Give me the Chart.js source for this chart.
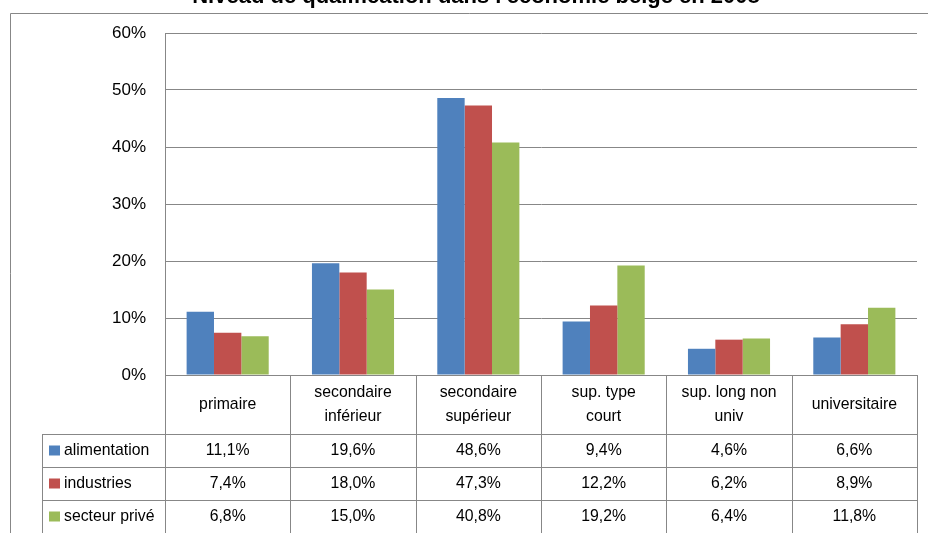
<!DOCTYPE html>
<html>
<head>
<meta charset="utf-8">
<script src="https://cdn.jsdelivr.net/npm/chart.js@4.4.1/dist/chart.umd.min.js"></script>
<style>
  html, body { margin: 0; padding: 0; background: #fff; }
  #wrap { width: 928px; height: 533px; }
</style>
</head>
<body>
<div id="wrap"><canvas id="qualif" width="928" height="533"></canvas></div>
<script>
const titleText = "Niveau de qualification dans l'économie belge en 2008";
const categories = [
    ["primaire"],
    ["secondaire", "inférieur"],
    ["secondaire", "supérieur"],
    ["sup. type", "court"],
    ["sup. long non", "univ"],
    ["universitaire"],
];
const seriesNames = ["alimentation", "industries", "secteur privé"];
const alimentation = [11.1, 19.6, 48.6, 9.4, 4.6, 6.6];
const industries = [7.4, 18.0, 47.3, 12.2, 6.2, 8.9];
const secteurPrive = [6.8, 15.0, 40.8, 19.2, 6.4, 11.8];
const yTicks = [0, 10, 20, 30, 40, 50, 60];

const colors = ["#4F81BD", "#C0504D", "#9BBB59"];
const lineColor = "#878787";
const narrow = '"Liberation Sans Narrow", "Arial Narrow", "Liberation Sans", sans-serif';
const squeeze = 0.93; // no narrow font here, so the table text is squeezed a bit

const fmt = (v) => v.toFixed(1).replace(".", ",") + "%";

function narrowText(ctx, text, x, y, align) {
    ctx.save();
    ctx.translate(x, y);
    ctx.scale(squeeze, 1);
    ctx.textAlign = align;
    ctx.fillText(text, 0, 0);
    ctx.restore();
}

// draws the title, the outer frame and the data table under the bars
const tablePlugin = {
    id: "dataTable",
    afterDraw(chart) {
        const ctx = chart.ctx;
        const area = chart.chartArea;
        const n = categories.length;
        const colW = (area.right - area.left) / n;
        const headTop = area.bottom;
        const headBottom = headTop + 59;
        const rowH = 33;
        const legendLeft = 42;
        const bottom = chart.height;

        ctx.save();
        // frame
        ctx.strokeStyle = lineColor;
        ctx.lineWidth = 1;
        ctx.beginPath();
        ctx.moveTo(10.5, bottom);
        ctx.lineTo(10.5, 13.5);
        ctx.lineTo(chart.width, 13.5);
        ctx.stroke();

        // title (cut by the top edge like in the source)
        ctx.fillStyle = "#000";
        ctx.font = 'bold 22px "Liberation Sans", Arial, sans-serif';
        ctx.textAlign = "center";
        ctx.textBaseline = "alphabetic";
        ctx.fillText(titleText, 476, 3);

        // table grid
        ctx.beginPath();
        for (let i = 0; i <= n; i++) {
            const x = Math.round(area.left + i * colW) + 0.5;
            ctx.moveTo(x, headTop);
            ctx.lineTo(x, bottom);
        }
        for (let r = 0; r < 3; r++) {
            const y = Math.round(headBottom + r * rowH) + 0.5;
            ctx.moveTo(legendLeft + 0.5, y);
            ctx.lineTo(area.right + 0.5, y);
        }
        ctx.moveTo(legendLeft + 0.5, headBottom);
        ctx.lineTo(legendLeft + 0.5, bottom);
        ctx.stroke();

        // header labels
        ctx.font = "17px " + narrow;
        ctx.textBaseline = "middle";
        categories.forEach((lines, i) => {
            const cx = area.left + (i + 0.5) * colW;
            const cy = (headTop + headBottom) / 2;
            const lh = 24;
            lines.forEach((t, k) => {
                narrowText(ctx, t, cx, cy + (k - (lines.length - 1) / 2) * lh, "center");
            });
        });

        // rows
        const rows = [alimentation, industries, secteurPrive];
        rows.forEach((vals, r) => {
            const cy = headBottom + r * rowH + rowH / 2;
            ctx.fillStyle = colors[r];
            ctx.fillRect(49, cy - 5, 11, 10);
            ctx.fillStyle = "#000";
            narrowText(ctx, seriesNames[r], 64, cy, "left");
            vals.forEach((v, i) => {
                narrowText(ctx, fmt(v), area.left + (i + 0.5) * colW, cy, "center");
            });
        });
        ctx.restore();
    },
};

const data = {
    labels: categories.map((c) => c.join(" ")),
    datasets: [
        { label: seriesNames[0], data: alimentation, backgroundColor: colors[0] },
        { label: seriesNames[1], data: industries, backgroundColor: colors[1] },
        { label: seriesNames[2], data: secteurPrive, backgroundColor: colors[2] },
    ],
};

const config = {
    type: "bar",
    data,
    plugins: [tablePlugin],
    options: {
        responsive: false,
        animation: false,
        datasets: {
            bar: { categoryPercentage: 0.655, barPercentage: 1, borderWidth: 0 },
        },
        layout: { padding: { top: 33, right: 11, bottom: 158, left: 0 } },
        plugins: {
            legend: { display: false },
            title: { display: false },
            tooltip: { enabled: false },
        },
        scales: {
            x: { display: false },
            y: {
                min: 0,
                max: 60,
                afterFit: (s) => { s.width = 165; },
                afterBuildTicks: (s) => { s.ticks = yTicks.map((v) => ({ value: v })); },
                ticks: {
                    padding: 19,
                    color: "#000",
                    font: { family: narrow, size: 17 },
                    callback: (v) => v + "%",
                },
                grid: { color: lineColor, lineWidth: 1, drawTicks: false },
                border: { display: true, color: lineColor, width: 1 },
            },
        },
    },
};

const qualifCanvas = document.getElementById("qualif");
const qualifChart = new Chart(qualifCanvas, config);
</script>
</body>
</html>
